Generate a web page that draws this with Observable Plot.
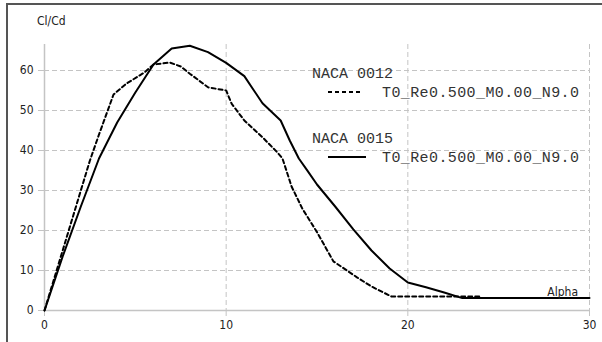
<!DOCTYPE html>
<html>
<head>
<meta charset="utf-8">
<script src="https://cdn.jsdelivr.net/npm/d3@7"></script>
<script src="https://cdn.jsdelivr.net/npm/@observablehq/plot@0.6"></script>
<style>
  html, body { margin: 0; padding: 0; background: #fff; }
  #wrap { position: relative; width: 602px; height: 342px; overflow: hidden; background: #fff; }
  #wrap svg { position: absolute; left: 0; top: 0; }
  #frame { position: absolute; left: 6px; top: 3px; width: 700px; height: 400px;
           border-top: 2px solid #555; border-left: 2px solid #555; }
</style>
</head>
<body>
<div id="wrap"><div id="frame"></div></div>
<script>
// NACA 0012 (dashed)
const alpha12 = [0, 1, 2, 2.5, 3, 3.8, 4.5, 5.5, 6, 6.9, 7.5, 8, 9, 10, 10.3, 11, 12, 12.8, 13.1, 13.6, 14.2, 15, 15.9, 17.2, 18, 19.1, 24];
const clcd12  = [0, 15, 30, 37.5, 44, 54, 56.7, 59.5, 61.5, 62, 61, 59.2, 55.8, 55, 51.7, 47.5, 43.3, 39.6, 38, 31, 25.4, 19.6, 12.3, 8.3, 6, 3.5, 3.5];
// NACA 0015 (solid)
const alpha15 = [0, 1, 2, 3, 4, 5, 6, 7, 8, 9, 10, 11, 11.5, 12, 13, 13.5, 14, 14.5, 15, 16, 17, 18, 19, 20, 21, 22, 23, 30];
const clcd15  = [0, 13.5, 26, 38, 47, 54.5, 61.5, 65.5, 66.2, 64.6, 61.9, 58.6, 55.2, 51.8, 47.5, 42.5, 38, 34.8, 31.5, 26, 20.3, 15, 10.5, 7, 5.8, 4.5, 3.1, 3.1];

const xTicks = [0, 10, 20, 30];
const yTicks = [0, 10, 20, 30, 40, 50, 60];
const xLabel = "Alpha";
const yLabel = "Cl/Cd";
const seriesNames = ["NACA 0012", "NACA 0015"];
const seriesSub = ["T0_Re0.500_M0.00_N9.0", "T0_Re0.500_M0.00_N9.0"];

const d12 = alpha12.map((a, i) => ({alpha: a, v: clcd12[i]}));
const d15 = alpha15.map((a, i) => ({alpha: a, v: clcd15[i]}));

const sans = "'DejaVu Sans Condensed', 'DejaVu Sans', sans-serif";
const grid = "#c4c4c4";

const chart = Plot.plot({
  width: 602,
  height: 342,
  marginLeft: 44,
  marginRight: 13,
  marginTop: 44,
  marginBottom: 32,
  style: {fontFamily: sans, fontSize: "12px", color: "#222", background: "transparent"},
  x: {domain: [0, 30]},
  y: {domain: [0, 66.5]},
  marks: [
    Plot.gridY({ticks: yTicks.filter(d => d > 0), stroke: grid, strokeOpacity: 1, strokeDasharray: "5,3"}),
    Plot.gridX({ticks: xTicks.filter(d => d > 0), stroke: grid, strokeOpacity: 1, strokeDasharray: "5,3"}),
    Plot.ruleY([0], {stroke: grid, strokeWidth: 1.5}),
    Plot.ruleX([0], {stroke: grid, strokeWidth: 1.5}),
    Plot.axisX({ticks: xTicks, tickSize: 6, tickPadding: 4, stroke: grid, strokeOpacity: 1, fill: "#222", label: null}),
    Plot.axisY({ticks: yTicks, tickSize: 6, tickPadding: 5, stroke: grid, strokeOpacity: 1, fill: "#222", label: null}),
    Plot.line(d12, {x: "alpha", y: "v", stroke: "#000", strokeWidth: 2, strokeDasharray: "4,3"}),
    Plot.line(d15, {x: "alpha", y: "v", stroke: "#000", strokeWidth: 2})
  ]
});
document.getElementById("wrap").appendChild(chart);

// Labels and legend overlay
const ov = d3.select("#wrap").append("svg")
  .attr("width", 602).attr("height", 342)
  .style("font-family", sans).style("font-size", "12px");

ov.append("text").attr("x", 37).attr("y", 25).attr("fill", "#222").text(yLabel);
ov.append("text").attr("x", 578).attr("y", 296).attr("text-anchor", "end").attr("fill", "#222").text(xLabel);

const mono = "'Liberation Mono', 'Courier New', monospace";
const leg = [
  {name: seriesNames[0], sub: seriesSub[0], dash: "4,3", y0: 78},
  {name: seriesNames[1], sub: seriesSub[1], dash: null, y0: 143}
];
leg.forEach(l => {
  ov.append("text").attr("x", 312).attr("y", l.y0).attr("fill", "#333")
    .style("font-family", mono).style("font-size", "15px").text(l.name);
  const ln = ov.append("line").attr("x1", 328).attr("x2", l.dash ? 361 : 366)
    .attr("y1", l.y0 + 14).attr("y2", l.y0 + 14).attr("stroke", "#000").attr("stroke-width", 2);
  if (l.dash) ln.attr("stroke-dasharray", l.dash);
  ov.append("text").attr("x", 382).attr("y", l.y0 + 19).attr("fill", "#333")
    .style("font-family", mono).style("font-size", "15px").attr("textLength", 197).text(l.sub);
});
</script>
</body>
</html>
